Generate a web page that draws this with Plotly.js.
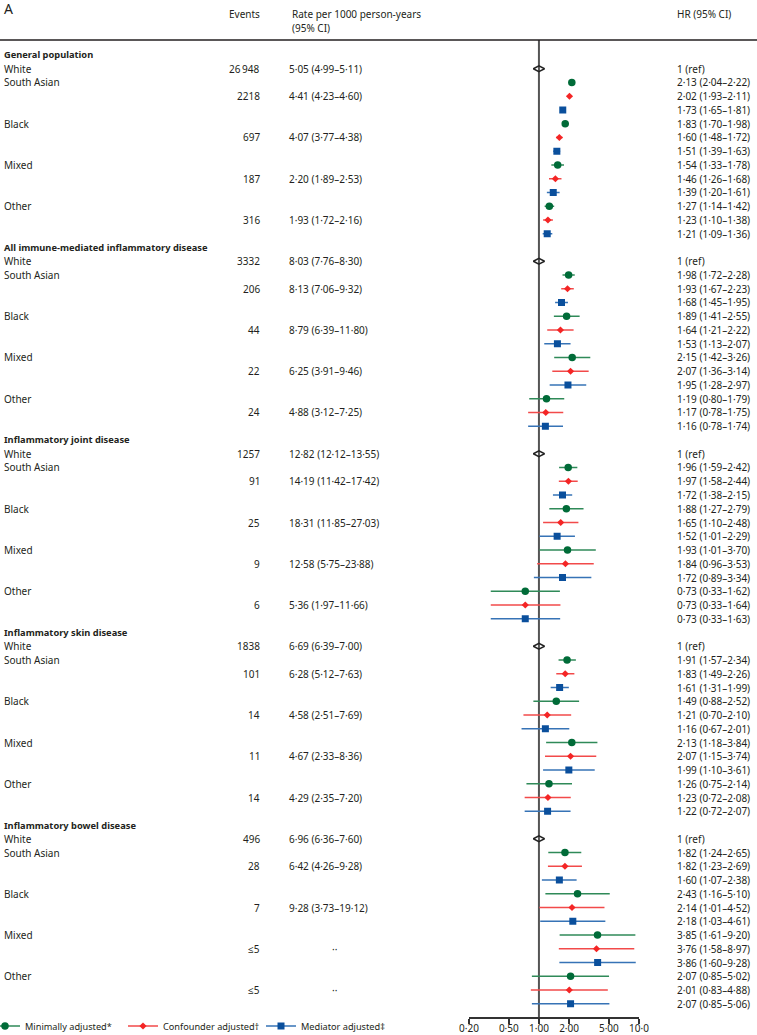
<!DOCTYPE html>
<html><head><meta charset="utf-8">
<script src="https://cdn.plot.ly/plotly-3.0.1.min.js"></script>
<style>html,body{margin:0;padding:0;background:#fff}#chart{width:757px;height:1035px}</style>
</head><body><div id="chart"></div>
<script>
// ---------------- data ----------------
const groups = ["General population", "All immune-mediated inflammatory disease", "Inflammatory joint disease", "Inflammatory skin disease", "Inflammatory bowel disease"];
const refLabel = "White";
const ethnicities = ["South Asian", "Black", "Mixed", "Other"];
const whiteEvents = ["26\u2009948", "3332", "1257", "1838", "496"];
const whiteRates = ["5·05 (4·99–5·11)", "8·03 (7·76–8·30)", "12·82 (12·12–13·55)", "6·69 (6·39–7·00)", "6·96 (6·36–7·60)"];
const events = [
  ["2218", "697", "187", "316"],
  ["206", "44", "22", "24"],
  ["91", "25", "9", "6"],
  ["101", "14", "11", "14"],
  ["28", "7", "≤5", "≤5"]
];
const rates = [
  ["4·41 (4·23–4·60)", "4·07 (3·77–4·38)", "2·20 (1·89–2·53)", "1·93 (1·72–2·16)"],
  ["8·13 (7·06–9·32)", "8·79 (6·39–11·80)", "6·25 (3·91–9·46)", "4·88 (3·12–7·25)"],
  ["14·19 (11·42–17·42)", "18·31 (11·85–27·03)", "12·58 (5·75–23·88)", "5·36 (1·97–11·66)"],
  ["6·28 (5·12–7·63)", "4·58 (2·51–7·69)", "4·67 (2·33–8·36)", "4·29 (2·35–7·20)"],
  ["6·42 (4·26–9·28)", "9·28 (3·73–19·12)", "··", "··"]
];
// Hazard ratios [group][ethnicity]
const minEst = [[2.13,1.83,1.54,1.27],[1.98,1.89,2.15,1.19],[1.96,1.88,1.93,0.73],[1.91,1.49,2.13,1.26],[1.82,2.43,3.85,2.07]];
const minLo  = [[2.04,1.70,1.33,1.14],[1.72,1.41,1.42,0.80],[1.59,1.27,1.01,0.33],[1.57,0.88,1.18,0.75],[1.24,1.16,1.61,0.85]];
const minHi  = [[2.22,1.98,1.78,1.42],[2.28,2.55,3.26,1.79],[2.42,2.79,3.70,1.62],[2.34,2.52,3.84,2.14],[2.65,5.10,9.20,5.02]];
const confEst = [[2.02,1.60,1.46,1.23],[1.93,1.64,2.07,1.17],[1.97,1.65,1.84,0.73],[1.83,1.21,2.07,1.23],[1.82,2.14,3.76,2.01]];
const confLo  = [[1.93,1.48,1.26,1.10],[1.67,1.21,1.36,0.78],[1.58,1.10,0.96,0.33],[1.49,0.70,1.15,0.72],[1.23,1.01,1.58,0.83]];
const confHi  = [[2.11,1.72,1.68,1.38],[2.23,2.22,3.14,1.75],[2.44,2.48,3.53,1.64],[2.26,2.10,3.74,2.08],[2.69,4.52,8.97,4.88]];
const medEst = [[1.73,1.51,1.39,1.21],[1.68,1.53,1.95,1.16],[1.72,1.52,1.72,0.73],[1.61,1.16,1.99,1.22],[1.60,2.18,3.86,2.07]];
const medLo  = [[1.65,1.39,1.20,1.09],[1.45,1.13,1.28,0.78],[1.38,1.01,0.89,0.33],[1.31,0.67,1.10,0.72],[1.07,1.03,1.60,0.85]];
const medHi  = [[1.81,1.63,1.61,1.36],[1.95,2.07,2.97,1.74],[2.15,2.29,3.34,1.63],[1.99,2.01,3.61,2.07],[2.38,4.61,9.28,5.06]];
const modelNames = ["Minimally adjusted*", "Confounder adjusted†", "Mediator adjusted‡"];
const tickVals = [0.2, 0.5, 1, 2, 5, 10];
const tickText = ["0·20", "0·50", "1·00", "2·00", "5·00", "10·0"];

// ---------------- layout helpers ----------------
const W = 757, H = 1035;
const ROW0 = 55, PITCH = 13.75;            // pixel of row 0, row spacing
const TOP = 40, BOTTOM = 1017;             // plot area pixel extent
const X0 = 469, X1 = 639;                  // x axis pixel extent
const rowsPerGroup = 14;
const px = p => p / W;
const py = p => 1 - p / H;
const headerRow = g => g * rowsPerGroup;
const whiteRow = g => g * rowsPerGroup + 1;
const rowOf = (g, e, s) => g * rowsPerGroup + 2 + 3 * e + s;
const fmt = v => v.toFixed(2).replace('.', '·');

const FONT = "Noto Sans, Open Sans, sans-serif";
const TXT = "#231f20";
const FS = 10;

const styles = [
  {marker: "#006b38", line: "#2f8a58", symbol: "circle", size: 7.5},
  {marker: "#f42525", line: "#f24a4a", symbol: "diamond", size: 5.5},
  {marker: "#0a4f9c", line: "#3673b6", symbol: "square", size: 7}
];
const models = [[minEst, minLo, minHi], [confEst, confLo, confHi], [medEst, medLo, medHi]];

const traces = [];
// reference markers (White)
traces.push({
  x: groups.map(() => 1), y: groups.map((_, g) => whiteRow(g)),
  type: "scatter", mode: "markers", showlegend: false, hoverinfo: "skip",
  marker: {symbol: "diamond-wide-open", size: 8, color: "#222", line: {width: 1.5, color: "#222"}},
  cliponaxis: false
});
models.forEach((m, s) => {
  const [est, lo, hi] = m;
  const xs = [], ys = [], up = [], dn = [];
  groups.forEach((_, g) => ethnicities.forEach((_, e) => {
    xs.push(est[g][e]); ys.push(rowOf(g, e, s));
    up.push(hi[g][e] - est[g][e]); dn.push(est[g][e] - lo[g][e]);
  }));
  traces.push({
    x: xs, y: ys, type: "scatter", mode: "markers", showlegend: false, cliponaxis: false,
    marker: {symbol: styles[s].symbol, size: styles[s].size, color: styles[s].marker},
    error_x: {type: "data", symmetric: false, array: up, arrayminus: dn, color: styles[s].line, thickness: 1.5, width: 0}
  });
});
// legend entries
modelNames.forEach((n, s) => {
  traces.push({
    x: [null], y: [null], type: "scatter", mode: "lines+markers", name: n,
    line: {color: styles[s].line, width: 1.5},
    marker: {symbol: styles[s].symbol, size: styles[s].size, color: styles[s].marker}
  });
});

// ---------------- annotations ----------------
const ann = [];
const T = (text, x, y, anchor, opts = {}) => ann.push(Object.assign({
  text, x: px(x), xref: "paper", y, yref: "y", xanchor: anchor, yanchor: "middle",
  showarrow: false, font: {family: FONT, size: FS, color: TXT}, borderpad: 0
}, opts));
const TP = (text, x, yPix, anchor, opts = {}) => T(text, x, py(yPix), anchor, Object.assign({yref: "paper"}, opts));

TP("A", 3, 9, "left", {font: {family: FONT, size: 14, color: TXT}});
TP("Events", 261, 14, "right");
TP("Rate per 1000 person-years", 291, 14, "left");
TP("(95% CI)", 291, 28, "left");
TP("HR (95% CI)", 676, 14, "left");

groups.forEach((gName, g) => {
  T("<b>" + gName + "</b>", 3, headerRow(g), "left", {font: {family: FONT, size: 9.3, color: TXT}});
  T(refLabel, 3, whiteRow(g), "left");
  T(whiteEvents[g], 261, whiteRow(g), "right");
  T(whiteRates[g], 288, whiteRow(g), "left");
  T("1 (ref)", 676, whiteRow(g), "left");
  ethnicities.forEach((eName, e) => {
    T(eName, 3, rowOf(g, e, 0), "left");
    T(events[g][e], 261, rowOf(g, e, 1), "right");
    const r = rates[g][e];
    T(r, r === "··" ? 331 : 288, rowOf(g, e, 1), "left");
    models.forEach((m, s) => {
      const [est, lo, hi] = m;
      T(`${fmt(est[g][e])} (${fmt(lo[g][e])}–${fmt(hi[g][e])})`, 676, rowOf(g, e, s), "left");
    });
  });
});

const rowTop = (TOP - ROW0) / PITCH, rowBottom = (BOTTOM - ROW0) / PITCH;

const layout = {
  width: W, height: H,
  margin: {l: 0, r: 0, t: 0, b: 0, pad: 0, autoexpand: false},
  paper_bgcolor: "#fff", plot_bgcolor: "rgba(0,0,0,0)",
  font: {family: FONT, size: FS, color: TXT},
  xaxis: {
    type: "log", range: [Math.log10(0.2), 1], autorange: false,
    domain: [px(X0), px(X1)], anchor: "y",
    tickvals: tickVals, ticktext: tickText,
    ticks: "outside", ticklen: 5, tickwidth: 1.5, tickcolor: "#333",
    ticklabelstandoff: -4,
    showline: true, linecolor: "#333", linewidth: 1.5,
    showgrid: false, zeroline: false,
    tickfont: {family: FONT, size: FS, color: TXT}
  },
  yaxis: {
    range: [rowBottom, rowTop], autorange: false,
    domain: [py(BOTTOM), py(TOP)],
    showticklabels: false, showgrid: false, zeroline: false, showline: false, ticks: ""
  },
  shapes: [
    {type: "line", xref: "paper", yref: "paper", x0: 0, x1: 1, y0: py(TOP), y1: py(TOP), line: {color: "#231f20", width: 1.5}},
    {type: "line", xref: "x", yref: "paper", x0: 1, x1: 1, y0: py(BOTTOM), y1: py(TOP), line: {color: "#555", width: 2}, layer: "below"}
  ],
  annotations: ann,
  showlegend: true,
  legend: {
    orientation: "h", x: 0, xanchor: "left", y: py(1026), yanchor: "middle",
    font: {family: FONT, size: 9.2, color: TXT}, bgcolor: "rgba(0,0,0,0)",
    itemwidth: 30, entrywidth: 108, entrywidthmode: "pixels", tracegroupgap: 0,
    indentation: -15
  },
  hovermode: false
};

Plotly.newPlot("chart", traces, layout, {displayModeBar: false, staticPlot: true});
</script>
</body></html>
